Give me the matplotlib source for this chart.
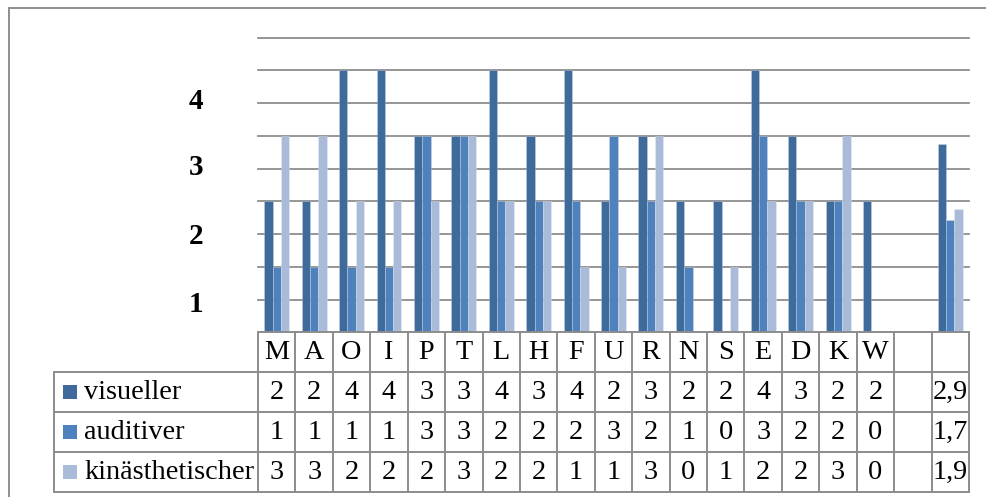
import matplotlib
matplotlib.use('Agg')
import matplotlib.pyplot as plt
from matplotlib.patches import Rectangle
import numpy as np

# ---------------- data ----------------
categories = ['M', 'A', 'O', 'I', 'P', 'T', 'L', 'H', 'F', 'U', 'R', 'N', 'S', 'E', 'D', 'K', 'W', '', '']
series_names = ['visueller', 'auditiver', 'kinästhetischer']
visueller = [2, 2, 4, 4, 3, 3, 4, 3, 4, 2, 3, 2, 2, 4, 3, 2, 2]
auditiver = [1, 1, 1, 1, 3, 3, 2, 2, 2, 3, 2, 1, 0, 3, 2, 2, 0]
kinaesthetischer = [3, 3, 2, 2, 2, 3, 2, 2, 1, 1, 3, 0, 1, 2, 2, 3, 0]
averages = [2.88, 1.71, 1.88]   # visueller, auditiver, kinästhetischer (last column)
ytick_labels = ['1', '2', '3', '4']

# ---------------- style ----------------
W, H = 986, 497
colors = ['#3E6A9C', '#4F81BD', '#AABBD9']
grid_color = '#898989'
line_color = '#8C8C8C'
plt.rcParams['font.family'] = ['Liberation Serif', 'DejaVu Serif']
fs = 20.3
fs_y = 21

def fx(px):
    return px / W

def fy(py):
    return 1 - py / H

fig = plt.figure(figsize=(W / 100, H / 100), dpi=100)

# outer chart border (cut off at right / bottom like the reference)
fig.add_artist(Rectangle((fx(9), fy(H + 20)), 1.2, (H + 20 - 8.5) / H,
                         transform=fig.transFigure, fill=False,
                         edgecolor='#8E8E8E', lw=1.4))

x_left, x_right = 258, 969
y_top, y_bot = 37.7, 332.3
ax = fig.add_axes([fx(x_left), fy(y_bot), (x_right - x_left) / W, (y_bot - y_top) / H])
n = len(categories)
ax.set_xlim(-0.5, n - 0.5)
ax.set_ylim(0, 4.5)
for s in ax.spines.values():
    s.set_visible(False)
ax.set_xticks([])

for g in np.arange(0.5, 4.51, 0.5):
    ax.axhline(g, color=grid_color, lw=1.25, zorder=1, clip_on=False)

# full series: 17 people, one blank column, average column
full = []
for vals, avg in zip([visueller, auditiver, kinaesthetischer], averages):
    full.append(list(vals) + [np.nan, avg])

bw = 1 / 4.5
x = np.arange(n)
for k, (vals, c) in enumerate(zip(full, colors)):
    v = np.array(vals, dtype=float)
    m = ~np.isnan(v)
    ax.bar(x[m] + (k - 1) * bw, v[m], width=bw, color=c, zorder=2,
           edgecolor=(1, 1, 1, 0.25), linewidth=0.6)

# y labels (positioned as in reference)
ytick_pos = [0.47, 1.51, 2.56, 3.57]
ax.set_yticks(ytick_pos)
ax.set_yticklabels(ytick_labels, fontsize=fs_y, fontweight='bold')
ax.tick_params(axis='y', length=0, pad=44.5)
for lab in ax.get_yticklabels():
    lab.set_horizontalalignment('center')

# ---------------- data table ----------------
unit = (x_right - x_left) / n
t_left, t_top, t_bot = 54, 332.3, 492
tax = fig.add_axes([fx(t_left), fy(t_bot), (x_right - t_left) / W, (t_bot - t_top) / H])
xl = -0.5 - (x_left - t_left) / unit
tax.set_xlim(xl, n - 0.5)
tax.set_ylim(4, 0)
tax.axis('off')

lkw = dict(color=line_color, lw=1.4, clip_on=False, solid_capstyle='projecting')
# horizontal lines
tax.plot([-0.5, n - 0.5], [0, 0], **lkw)
for r in [1, 2, 3, 4]:
    tax.plot([xl, n - 0.5], [r, r], **lkw)
# vertical lines
tax.plot([xl, xl], [1, 4], **lkw)
for j in range(n + 1):
    tax.plot([j - 0.5, j - 0.5], [0, 4], **lkw)

# header letters
for j, cat in enumerate(categories):
    tax.text(j, 0.5, cat, ha='center', va='center', fontsize=fs)

# rows
sq = 14 / unit
for k, (name, vals, c) in enumerate(zip(series_names, full, colors)):
    r = k + 1
    tax.add_patch(Rectangle((xl + 9 / unit, r + 0.5 - 0.175), sq, 0.35,
                            facecolor=c, edgecolor='none', clip_on=False))
    tax.text(xl + 30 / unit, r + 0.5, name, ha='left', va='center', fontsize=fs)
    for j, v in enumerate(vals):
        if np.isnan(v):
            continue
        if j == n - 1:
            txt = f'{v:.1f}'.replace('.', ',')
        else:
            txt = f'{int(v)}'
        tax.text(j, r + 0.5, txt, ha='center', va='center', fontsize=fs)

fig.savefig('out.png', dpi=100)
